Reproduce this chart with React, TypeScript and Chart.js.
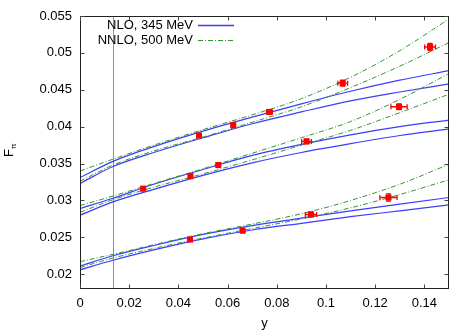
import { useEffect, useRef } from "react";
import { Chart, registerables } from "chart.js";

Chart.register(...registerables);

const FONT = "'Liberation Sans', Arial, Helvetica, sans-serif";

const curveX = [0, 0.0134, 0.03, 0.05, 0.07, 0.09, 0.11, 0.13, 0.15];

// NLO (345 MeV) curves, blue solid
const nloTopA = [0.0331, 0.0353, 0.0373, 0.0394, 0.0413, 0.0431, 0.0448, 0.0463, 0.0476];
const nloTopB = [0.0323, 0.0346, 0.0365, 0.0385, 0.0404, 0.042, 0.0435, 0.0447, 0.0458];
const nloMidA = [0.0289, 0.0303, 0.0322, 0.0342, 0.0361, 0.0376, 0.0389, 0.04, 0.0409];
const nloMidB = [0.028, 0.0298, 0.0315, 0.0334, 0.0351, 0.0365, 0.0377, 0.0388, 0.0397];
const nloLowA = [0.0211, 0.0225, 0.0239, 0.0254, 0.0266, 0.0276, 0.0286, 0.0295, 0.0304];
const nloLowB = [0.0206, 0.0219, 0.0233, 0.0248, 0.026, 0.0269, 0.0278, 0.0286, 0.0294];

// NNLO (500 MeV) curves, green dash-dot
const nnloTopA = [0.034, 0.0356, 0.0375, 0.0396, 0.0416, 0.0438, 0.0467, 0.0503, 0.0546];
const nnloTopB = [0.0326, 0.0348, 0.0367, 0.0386, 0.0406, 0.0427, 0.0453, 0.0482, 0.0514];
const nnloMidA = [0.0293, 0.0306, 0.0323, 0.0343, 0.0364, 0.0385, 0.0407, 0.0437, 0.0472];
const nnloMidB = [0.0284, 0.0301, 0.0318, 0.0336, 0.0355, 0.0375, 0.0395, 0.0419, 0.0444];
const nnloLowA = [0.0217, 0.0227, 0.024, 0.0255, 0.0268, 0.0282, 0.03, 0.0322, 0.0349];
const nnloLowB = [0.0209, 0.0222, 0.0235, 0.0249, 0.0262, 0.0275, 0.029, 0.0308, 0.0328];

// lattice data points
const dataX = [0.0484, 0.0623, 0.077, 0.1068, 0.1423, 0.1297, 0.0921, 0.0562, 0.0449, 0.0257, 0.1254, 0.0939, 0.0661, 0.0447];
const dataY = [0.0388, 0.0402, 0.042, 0.0459, 0.0508, 0.0427, 0.038, 0.0348, 0.0333, 0.0316, 0.0304, 0.0281, 0.0259, 0.0247];
const dataErrX = [0.0005, 0.0008, 0.0012, 0.002, 0.0022, 0.0033, 0.002, 0.0005, 0.0003, 0.0002, 0.0035, 0.0023, 0.0006, 0.0003];
const dataErrY = [0.0001, 0.0002, 0.0003, 0.0004, 0.0005, 0.0004, 0.0003, 0.0001, 0.0001, 0.0001, 0.0005, 0.0003, 0.0001, 0.0001];

const cutX = 0.0135;

const xTicks = [0, 0.02, 0.04, 0.06, 0.08, 0.1, 0.12, 0.14];
const xTickLabels = ["0", "0.02", "0.04", "0.06", "0.08", "0.1", "0.12", "0.14"];
const yTicks = [0.02, 0.025, 0.03, 0.035, 0.04, 0.045, 0.05, 0.055];
const yTickLabels = ["0.02", "0.025", "0.03", "0.035", "0.04", "0.045", "0.05", "0.055"];

const legendLabels = ["NLO, 345 MeV", "NNLO, 500 MeV"];

const BLUE = "rgb(60,60,255)";
const GREEN = "rgb(50,150,50)";
const RED = "rgb(255,0,0)";
const GREEN_DASH = [5, 2, 1, 2];

export default function App() {
  const ref = useRef<HTMLCanvasElement | null>(null);

  useEffect(() => {
    const canvas = ref.current;
    if (!canvas) return;

    const toPts = (ys: number[]) => curveX.map((x, i) => ({ x, y: ys[i] }));
    const nlo = [nloTopA, nloTopB, nloMidA, nloMidB, nloLowA, nloLowB];
    const nnlo = [nnloTopA, nnloTopB, nnloMidA, nnloMidB, nnloLowA, nnloLowB];

    const datasets: any[] = [];
    datasets.push({
      type: "scatter",
      label: "data",
      data: dataX.map((x, i) => ({ x, y: dataY[i] })),
      pointStyle: "rect",
      pointRadius: 4.3,
      backgroundColor: RED,
      borderColor: RED,
      borderWidth: 0,
      order: 0,
    });
    nlo.forEach((ys, k) =>
      datasets.push({
        type: "line",
        label: "nlo" + k,
        data: toPts(ys),
        borderColor: BLUE,
        borderWidth: 1.2,
        pointRadius: 0,
        cubicInterpolationMode: "monotone",
        fill: false,
        order: 2,
      })
    );
    nnlo.forEach((ys, k) =>
      datasets.push({
        type: "line",
        label: "nnlo" + k,
        data: toPts(ys),
        borderColor: GREEN,
        borderWidth: 1,
        borderDash: GREEN_DASH,
        pointRadius: 0,
        cubicInterpolationMode: "monotone",
        fill: false,
        order: 1,
      })
    );

    const decor = {
      id: "decor",
      beforeDatasetsDraw(chart: any) {
        const { ctx, chartArea: a, scales } = chart;
        const px = Math.round(scales.x.getPixelForValue(cutX)) + 0.5;
        ctx.save();
        ctx.strokeStyle = "rgb(100,165,165)";
        ctx.lineWidth = 1;
        ctx.beginPath();
        ctx.moveTo(px, a.top);
        ctx.lineTo(px, a.bottom);
        ctx.stroke();
        ctx.restore();
      },
      afterDatasetsDraw(chart: any) {
        const { ctx, chartArea: a, scales } = chart;
        const xs = scales.x;
        const ys = scales.y;
        ctx.save();
        // error bars
        ctx.strokeStyle = RED;
        ctx.lineWidth = 1.3;
        dataX.forEach((x, i) => {
          const cx = xs.getPixelForValue(x);
          const cy = ys.getPixelForValue(dataY[i]);
          const l = xs.getPixelForValue(x - dataErrX[i]);
          const r = xs.getPixelForValue(x + dataErrX[i]);
          const t = ys.getPixelForValue(dataY[i] + dataErrY[i]);
          const b = ys.getPixelForValue(dataY[i] - dataErrY[i]);
          ctx.beginPath();
          ctx.moveTo(l, cy);
          ctx.lineTo(r, cy);
          ctx.moveTo(l, cy - 2.5);
          ctx.lineTo(l, cy + 2.5);
          ctx.moveTo(r, cy - 2.5);
          ctx.lineTo(r, cy + 2.5);
          ctx.moveTo(cx, t);
          ctx.lineTo(cx, b);
          ctx.moveTo(cx - 2.5, t);
          ctx.lineTo(cx + 2.5, t);
          ctx.moveTo(cx - 2.5, b);
          ctx.lineTo(cx + 2.5, b);
          ctx.stroke();
        });
        ctx.restore();

        // border and inward ticks
        ctx.save();
        ctx.strokeStyle = "#222";
        ctx.lineWidth = 1;
        const L = Math.round(a.left) + 0.5;
        const R = Math.round(a.right) - 0.5;
        const T = Math.round(a.top) + 0.5;
        const B = Math.round(a.bottom) - 0.5;
        ctx.strokeRect(L, T, R - L, B - T);
        ctx.strokeStyle = "#444";
        ctx.beginPath();
        xTicks.forEach((v) => {
          const p = Math.round(xs.getPixelForValue(v)) + 0.5;
          ctx.moveTo(p, B);
          ctx.lineTo(p, B - 4);
          ctx.moveTo(p, T);
          ctx.lineTo(p, T + 4);
        });
        yTicks.forEach((v) => {
          const p = Math.round(ys.getPixelForValue(v)) + 0.5;
          ctx.moveTo(L, p);
          ctx.lineTo(L + 4, p);
          ctx.moveTo(R, p);
          ctx.lineTo(R - 4, p);
        });
        ctx.stroke();
        ctx.restore();

        // legend
        const rows = [25, 40];
        legendLabels.forEach((lab, i) => {
          ctx.save();
          ctx.font = "13px " + FONT;
          ctx.fillStyle = "#000";
          ctx.textAlign = "right";
          ctx.textBaseline = "middle";
          ctx.fillText(lab, 193, rows[i]);
          ctx.restore();
        });
        ctx.save();
        ctx.lineWidth = 1.5;
        ctx.strokeStyle = "#3c3cff";
        ctx.beginPath();
        ctx.moveTo(198, 25.5);
        ctx.lineTo(234, 25.5);
        ctx.stroke();
        ctx.restore();
        ctx.save();
        ctx.lineWidth = 1;
        ctx.strokeStyle = GREEN;
        ctx.setLineDash(GREEN_DASH);
        ctx.beginPath();
        ctx.moveTo(198, 40.5);
        ctx.lineTo(234, 40.5);
        ctx.stroke();
        ctx.restore();

        // axis titles
        ctx.save();
        ctx.fillStyle = "#000";
        ctx.font = "13px " + FONT;
        ctx.textAlign = "center";
        ctx.textBaseline = "middle";
        ctx.fillText("y", (a.left + a.right) / 2, 323);
        ctx.translate(13, 152);
        ctx.rotate(-Math.PI / 2);
        ctx.textAlign = "left";
        ctx.textBaseline = "alphabetic";
        ctx.font = "13px " + FONT;
        ctx.fillText("F", -5, 0);
        ctx.font = "8px " + FONT;
        ctx.fillText("π", 3, 3);
        ctx.restore();
      },
    };

    const chart = new Chart(canvas, {
      type: "line",
      data: { datasets },
      options: {
        animation: false,
        responsive: false,
        maintainAspectRatio: false,
        layout: { padding: { left: 0, right: 24, top: 16, bottom: 0 } },
        plugins: { legend: { display: false }, tooltip: { enabled: false } },
        scales: {
          x: {
            type: "linear",
            min: 0,
            max: 0.15,
            grid: { display: false, drawTicks: false },
            border: { display: false },
            afterBuildTicks: (s: any) => {
              s.ticks = xTicks.map((v) => ({ value: v }));
            },
            afterFit: (s: any) => {
              s.height = 43;
            },
            ticks: {
              autoSkip: false,
              maxRotation: 0,
              padding: 7,
              color: "#000",
              font: { family: FONT, size: 13 },
              callback: (_v: any, i: number) => xTickLabels[i],
            },
          },
          y: {
            type: "linear",
            min: 0.018,
            max: 0.055,
            grid: { display: false, drawTicks: false },
            border: { display: false },
            afterBuildTicks: (s: any) => {
              s.ticks = yTicks.map((v) => ({ value: v }));
            },
            afterFit: (s: any) => {
              s.width = 80;
            },
            ticks: {
              autoSkip: false,
              padding: 8,
              color: "#000",
              font: { family: FONT, size: 13 },
              callback: (_v: any, i: number) => yTickLabels[i],
            },
          },
        },
      },
      plugins: [decor],
    });

    return () => chart.destroy();
  }, []);

  return (
    <div style={{ position: "fixed", left: 0, top: 0, width: 473, height: 332, background: "#fff" }}>
      <canvas ref={ref} width={473} height={332} style={{ display: "block" }} />
    </div>
  );
}
